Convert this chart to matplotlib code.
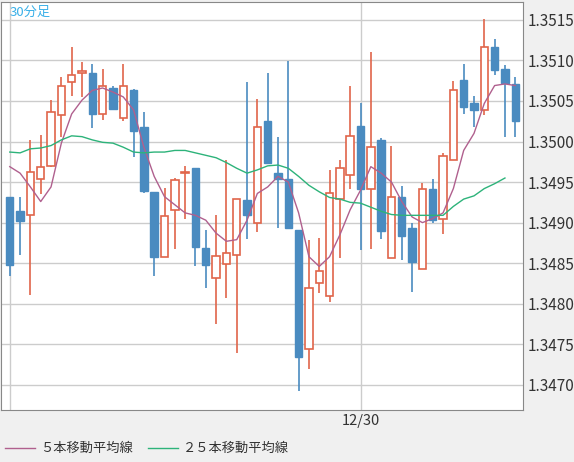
import matplotlib
matplotlib.use("Agg")

import matplotlib.pyplot as plt
from matplotlib.lines import Line2D
from matplotlib.patches import Rectangle

plt.rcParams["font.family"] = ["Noto Sans CJK JP", "DejaVu Sans"]

opens = [1.34932, 1.34914, 1.34910, 1.34954, 1.34970, 1.35033, 1.35073, 1.35084, 1.35084, 1.35034,
         1.35066, 1.35029, 1.35063, 1.35018, 1.34938, 1.34858, 1.34916, 1.34961, 1.34967, 1.34869,
         1.34832, 1.34849, 1.34860, 1.34928, 1.34900, 1.35025, 1.34961, 1.34954, 1.34891, 1.34744,
         1.34825, 1.34809, 1.34929, 1.34959, 1.35019, 1.34942, 1.35002, 1.34857, 1.34932, 1.34893,
         1.34843, 1.34941, 1.34905, 1.34977, 1.35076, 1.35047, 1.35039, 1.35116, 1.35089, 1.35071]
highs = [1.34932, 1.34932, 1.35002, 1.35008, 1.35051, 1.35080, 1.35116, 1.35098, 1.35095, 1.35089,
         1.35069, 1.35095, 1.35065, 1.35037, 1.34938, 1.34943, 1.34955, 1.34970, 1.34967, 1.34891,
         1.34909, 1.34977, 1.34929, 1.35073, 1.35053, 1.35084, 1.35005, 1.35099, 1.34891, 1.34879,
         1.34881, 1.34965, 1.34977, 1.35068, 1.35048, 1.35110, 1.35004, 1.34995, 1.34945, 1.34899,
         1.34949, 1.34954, 1.34986, 1.35075, 1.35095, 1.35056, 1.35151, 1.35126, 1.35094, 1.35080]
lows = [1.34834, 1.34860, 1.34811, 1.34935, 1.34969, 1.35006, 1.35056, 1.35055, 1.35017, 1.35027,
        1.35040, 1.35025, 1.34981, 1.34937, 1.34834, 1.34858, 1.34868, 1.34905, 1.34846, 1.34819,
        1.34775, 1.34807, 1.34739, 1.34880, 1.34889, 1.34973, 1.34893, 1.34893, 1.34692, 1.34720,
        1.34813, 1.34802, 1.34857, 1.34941, 1.34866, 1.34868, 1.34880, 1.34857, 1.34854, 1.34814,
        1.34843, 1.34900, 1.34886, 1.34977, 1.35034, 1.35018, 1.35033, 1.35082, 1.35006, 1.35006]
closes = [1.34848, 1.34902, 1.34963, 1.34969, 1.35037, 1.35068, 1.35082, 1.35087, 1.35034, 1.35068,
          1.35040, 1.35068, 1.35013, 1.34939, 1.34858, 1.34908, 1.34953, 1.34963, 1.34870, 1.34848,
          1.34859, 1.34862, 1.34929, 1.34909, 1.35018, 1.34973, 1.34954, 1.34893, 1.34734, 1.34819,
          1.34840, 1.34937, 1.34967, 1.35007, 1.34942, 1.34993, 1.34890, 1.34931, 1.34883, 1.34852,
          1.34941, 1.34903, 1.34982, 1.35064, 1.35043, 1.35039, 1.35116, 1.35088, 1.35072, 1.35025]

ma5 = [1.34969, 1.34961, 1.34944, 1.34926, 1.34944, 1.34998, 1.35034, 1.35051, 1.35063, 1.35066,
       1.35061, 1.35055, 1.35039, 1.34993, 1.34957, 1.34932, 1.34922, 1.34912, 1.34909, 1.34903,
       1.34887, 1.34877, 1.34879, 1.34903, 1.34936, 1.34944, 1.34957, 1.34950, 1.34912, 1.34858,
       1.34846, 1.34858, 1.34885, 1.34916, 1.34940, 1.34969, 1.34961, 1.34950, 1.34926, 1.34907,
       1.34900, 1.34905, 1.34912, 1.34942, 1.34989, 1.35010, 1.35047, 1.35069, 1.35071, 1.35069]
ma25 = [1.34987, 1.34986, 1.34991, 1.34992, 1.34995, 1.35002, 1.35007, 1.35006, 1.35002, 1.34999,
        1.34998, 1.34993, 1.34987, 1.34986, 1.34987, 1.34987, 1.34989, 1.34989, 1.34986, 1.34983,
        1.34980, 1.34974, 1.34967, 1.34961, 1.34965, 1.34970, 1.34971, 1.34967, 1.34957, 1.34946,
        1.34938, 1.34931, 1.34929, 1.34925, 1.34924, 1.34919, 1.34914, 1.34910, 1.34909, 1.34909,
        1.34909, 1.34909, 1.34909, 1.34920, 1.34929, 1.34933, 1.34942, 1.34948, 1.34955]

y_ticks = [1.3470, 1.3475, 1.3480, 1.3485, 1.3490, 1.3495, 1.3500, 1.3505, 1.3510, 1.3515]
x_tick_pos = [0, 34]
x_tick_labels = ["", "12/30"]

BLUE = "#4a8bc0"
RED = "#e0654a"
PURPLE = "#b0608e"
GREEN = "#2db37a"

fig = plt.figure(figsize=(5.74, 4.62), dpi=100)
fig.patch.set_facecolor("#f0f0f0")
ax = fig.add_axes([1 / 574, 1 - 410 / 462, 522 / 574, 408 / 462])
ax.set_facecolor("white")

for i in range(len(opens)):
    o, h, l, c = opens[i], highs[i], lows[i], closes[i]
    if c < o:
        ax.vlines(i, l, h, color=BLUE, linewidth=1.2, zorder=3)
        ax.add_patch(Rectangle((i - 0.36, c), 0.72, o - c, facecolor=BLUE,
                               edgecolor=BLUE, linewidth=1, zorder=4))
    else:
        ax.vlines(i, l, o, color=RED, linewidth=1.2, zorder=3)
        ax.vlines(i, c, h, color=RED, linewidth=1.2, zorder=3)
        ax.add_patch(Rectangle((i - 0.36, o), 0.72, max(c - o, 0.000003), facecolor="white",
                               edgecolor=RED, linewidth=1.2, zorder=4))

ax.plot(range(len(ma5)), ma5, color=PURPLE, linewidth=1, zorder=5)
ax.plot(range(len(ma25)), ma25, color=GREEN, linewidth=1, zorder=5)

ax.set_xlim(-0.85, 49.75)
ax.set_ylim(1.34669, 1.35172)
ax.set_yticks(y_ticks)
ax.set_yticklabels([f"{v:.4f}" for v in y_ticks], fontsize=11, color="#333333")
ax.yaxis.tick_right()
ax.set_xticks(x_tick_pos)
ax.set_xticklabels(x_tick_labels, fontsize=10.5, color="#333333")
ax.tick_params(length=0, pad=3)
ax.grid(True, color="#cccccc", linewidth=1)
ax.set_axisbelow(True)
for spine in ax.spines.values():
    spine.set_color("#888888")

ax.text(0.016, 0.99, "30分足", transform=ax.transAxes, fontsize=9.5,
        color="#3ab0e8", va="top", ha="left")

fig.add_artist(Line2D([5 / 574, 35 / 574], [1 - 448 / 462] * 2, color=PURPLE, linewidth=1))
fig.text(40 / 574, 1 - 448 / 462, "５本移動平均線", fontsize=9.5, va="center", color="#333333")
fig.add_artist(Line2D([148 / 574, 178 / 574], [1 - 448 / 462] * 2, color=GREEN, linewidth=1))
fig.text(183 / 574, 1 - 448 / 462, "２５本移動平均線", fontsize=9.5, va="center", color="#333333")

fig.savefig("out.png", dpi=100, facecolor=fig.get_facecolor())
